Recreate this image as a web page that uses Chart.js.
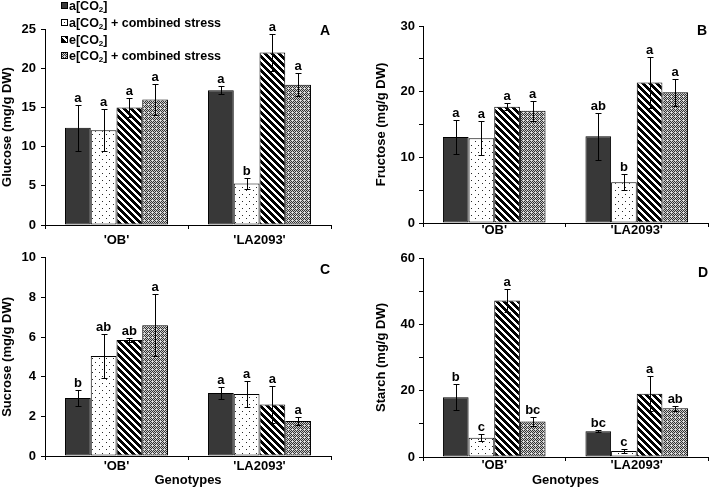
<!DOCTYPE html>
<html>
<head>
<meta charset="utf-8">
<script src="https://cdn.jsdelivr.net/npm/chart.js@4.4.1/dist/chart.umd.min.js"></script>
<style>
  html, body { margin: 0; padding: 0; background: #fff; }
  #wrap { position: relative; width: 709px; height: 496px; overflow: hidden; }
  canvas { position: absolute; }
</style>
</head>
<body>
<div id="wrap">
  <canvas id="glucoseChart" width="355" height="250" style="left:0;top:0;width:355px;height:250px"></canvas>
  <canvas id="fructoseChart" width="354" height="250" style="left:355px;top:0;width:354px;height:250px"></canvas>
  <canvas id="sucroseChart" width="355" height="251" style="left:0;top:245px;width:355px;height:251px"></canvas>
  <canvas id="starchChart" width="354" height="251" style="left:355px;top:245px;width:354px;height:251px"></canvas>
</div>
<script>
const genotypes = ["'OB'", "'LA2093'"];
const treatments = ["a[CO₂]", "a[CO₂] + combined stress", "e[CO₂]", "e[CO₂] + combined stress"];
const fillKinds = ["solid", "dots", "stripes", "checks"];

// each row is one treatment: [OB, LA2093]
const glucoseMeans = [[12.4, 17.2], [12.1, 5.3], [15.0, 22.0], [16.0, 17.9]];
const glucoseErrors = [[2.95, 0.55], [2.7, 0.7], [1.2, 2.4], [2.0, 1.45]];
const glucoseLetters = [["a", "a"], ["a", "b"], ["a", "a"], ["a", "a"]];

const fructoseMeans = [[13.1, 13.2], [12.9, 6.2], [17.7, 21.4], [17.1, 19.9]];
const fructoseErrors = [[2.55, 3.55], [2.6, 1.25], [0.5, 3.85], [1.5, 2.1]];
const fructoseLetters = [["a", "ab"], ["a", "b"], ["a", "a"], ["a", "a"]];

const sucroseMeans = [[2.93, 3.18], [5.05, 3.13], [5.85, 2.6], [6.6, 1.76]];
const sucroseErrors = [[0.4, 0.28], [1.12, 0.65], [0.1, 0.92], [1.55, 0.2]];
const sucroseLetters = [["b", "a"], ["ab", "a"], ["ab", "a"], ["a", "a"]];

const starchMeans = [[18.0, 7.8], [5.8, 1.8], [47.2, 19.1], [10.7, 14.7]];
const starchErrors = [[3.9, 0.3], [1.0, 0.5], [3.4, 5.3], [1.3, 0.8]];
const starchLetters = [["b", "bc"], ["c", "c"], ["a", "a"], ["bc", "ab"]];

const FONT = "'Liberation Sans', Arial, sans-serif";
Chart.defaults.font.family = FONT;
Chart.defaults.font.size = 13;
Chart.defaults.font.weight = "bold";
Chart.defaults.color = "#000";

function makeFill(ctx, kind) {
  if (kind === "solid") return "#383838";
  const size = kind === "checks" ? 4 : 7;
  const tile = document.createElement("canvas");
  tile.width = size;
  tile.height = size;
  const g = tile.getContext("2d");
  const img = g.createImageData(size, size);
  for (let y = 0; y < size; y++) {
    for (let x = 0; x < size; x++) {
      let v = 255;
      if (kind === "dots") v = (x === 1 && y === 1) || (x === 4 && y === 5) ? 40 : 255;
      else if (kind === "stripes") v = ((x - y + size * 2) % size) < 4 ? 0 : 255;
      else v = (x + y) % 2 === 0 ? ((x % 4 === 0 && y % 4 === 0) ? 230 : 50) : 205;
      const i = (y * size + x) * 4;
      img.data[i] = img.data[i + 1] = img.data[i + 2] = v;
      img.data[i + 3] = 255;
    }
  }
  g.putImageData(img, 0, 0);
  return ctx.createPattern(tile, "repeat");
}

// draws text where "₂" becomes a small lowered 2
function drawSubText(ctx, text, x, y, size) {
  const parts = text.split("₂");
  parts.forEach((part, i) => {
    ctx.font = `bold ${size}px ${FONT}`;
    ctx.fillText(part, x, y);
    x += ctx.measureText(part).width;
    if (i < parts.length - 1) {
      ctx.font = `bold ${Math.round(size * 0.6)}px ${FONT}`;
      ctx.fillText("2", x, y + 2);
      x += ctx.measureText("2").width;
    }
  });
}

function makeAnnotate(p, fills) {
  return {
    id: "annotate",
    afterDatasetsDraw(chart) {
      const ctx = chart.ctx;
      const yScale = chart.scales.y;
      ctx.save();
      ctx.strokeStyle = "#000";
      ctx.fillStyle = "#000";
      ctx.lineWidth = 1;
      ctx.textAlign = "center";
      ctx.textBaseline = "alphabetic";
      ctx.font = `bold 13px ${FONT}`;
      chart.data.datasets.forEach((ds, di) => {
        chart.getDatasetMeta(di).data.forEach((bar, i) => {
          const m = ds.data[i];
          const e = p.errors[di][i];
          const top = Math.round(yScale.getPixelForValue(m + e)) + 0.5;
          const bot = Math.round(yScale.getPixelForValue(m - e)) + 0.5;
          const x = Math.round(bar.x) + 0.5;
          ctx.beginPath();
          ctx.moveTo(x, top);
          ctx.lineTo(x, bot);
          ctx.moveTo(x - 3, top);
          ctx.lineTo(x + 3, top);
          ctx.moveTo(x - 3, bot);
          ctx.lineTo(x + 3, bot);
          ctx.stroke();
          ctx.fillText(p.letters[di][i], bar.x, top - 4);
        });
      });

      const area = chart.chartArea;
      ctx.font = `bold 14px ${FONT}`;
      ctx.textBaseline = "middle";
      ctx.fillText(p.tag, area.right + p.tagDx, area.top + p.tagDy);

      if (p.legend) {
        const rows = [5, 22, 39, 55];
        ctx.textAlign = "left";
        ctx.textBaseline = "alphabetic";
        treatments.forEach((label, i) => {
          const cy = rows[i];
          ctx.fillStyle = fills[i];
          ctx.fillRect(61, cy - 3, 6, 6);
          ctx.strokeRect(61.5, cy - 2.5, 6, 6);
          ctx.fillStyle = "#000";
          drawSubText(ctx, label, 69, cy + 4.5, 12.5);
        });
      }
      ctx.restore();
    }
  };
}

function buildChart(id, p) {
  const ctx = document.getElementById(id).getContext("2d");
  const fills = fillKinds.map(k => makeFill(ctx, k));
  const datasets = treatments.map((label, i) => ({
    label,
    data: p.means[i],
    backgroundColor: fills[i],
    borderColor: "#000",
    borderWidth: 1,
    borderSkipped: false,
    categoryPercentage: 0.72,
    barPercentage: 1
  }));

  return new Chart(ctx, {
    type: "bar",
    data: { labels: genotypes, datasets },
    options: {
      responsive: false,
      animation: false,
      devicePixelRatio: 1,
      layout: { padding: { top: p.padTop, right: p.padRight, left: 0, bottom: 0 } },
      plugins: { legend: { display: false }, tooltip: { enabled: false } },
      scales: {
        x: {
          offset: true,
          grid: { offset: true, drawOnChartArea: false, drawTicks: true, tickLength: 4, color: "#000" },
          border: { display: true, color: "#000", width: 1 },
          ticks: { padding: p.xTickPad, maxRotation: 0, autoSkip: false, font: { size: 13, weight: "bold" } },
          title: {
            display: !!p.xTitle,
            text: p.xTitle || "",
            font: { size: 13, weight: "bold" },
            padding: { top: 0, bottom: 8 }
          },
          afterFit: s => { s.height = p.xHeight; }
        },
        y: {
          min: 0,
          max: p.max,
          grid: { drawOnChartArea: false, drawTicks: true, tickLength: 4, color: "#000" },
          border: { display: true, color: "#000", width: 1 },
          ticks: {
            stepSize: p.step,
            padding: p.yTickPad,
            font: { size: 13, weight: "bold" },
            callback: v => (v % p.labelEvery === 0 ? v : "")
          },
          title: {
            display: true,
            text: p.yTitle,
            font: { size: 13, weight: "bold" },
            padding: { top: p.yTitlePad, bottom: 0 }
          },
          afterFit: s => { s.width = p.yWidth; }
        }
      }
    },
    plugins: [makeAnnotate(p, fills)]
  });
}

buildChart("glucoseChart", {
  means: glucoseMeans, errors: glucoseErrors, letters: glucoseLetters,
  yTitle: "Glucose (mg/g DW)", max: 25, step: 5, labelEvery: 5,
  padTop: 29, padRight: 24, yWidth: 45, xHeight: 25, yTickPad: 5, xTickPad: 3.5, yTitlePad: 0,
  tag: "A", tagDx: -6, tagDy: 2, legend: true
});
buildChart("fructoseChart", {
  means: fructoseMeans, errors: fructoseErrors, letters: fructoseLetters,
  yTitle: "Fructose (mg/g DW)", max: 30, step: 5, labelEvery: 10,
  padTop: 26, padRight: 1, yWidth: 68, xHeight: 27, yTickPad: 4, xTickPad: -4, yTitlePad: 19,
  tag: "B", tagDx: -6, tagDy: 5
});
buildChart("sucroseChart", {
  means: sucroseMeans, errors: sucroseErrors, letters: sucroseLetters,
  yTitle: "Sucrose (mg/g DW)", xTitle: "Genotypes", max: 10, step: 2, labelEvery: 2,
  padTop: 12, padRight: 24, yWidth: 45, xHeight: 40, yTickPad: 5, xTickPad: -1, yTitlePad: 0,
  tag: "C", tagDx: -6, tagDy: 12
});
buildChart("starchChart", {
  means: starchMeans, errors: starchErrors, letters: starchLetters,
  yTitle: "Starch (mg/g DW)", xTitle: "Genotypes", max: 60, step: 10, labelEvery: 20,
  padTop: 13, padRight: 1, yWidth: 68, xHeight: 39, yTickPad: 4, xTickPad: -3, yTitlePad: 19,
  tag: "D", tagDx: -5, tagDy: 15
});
</script>
</body>
</html>
